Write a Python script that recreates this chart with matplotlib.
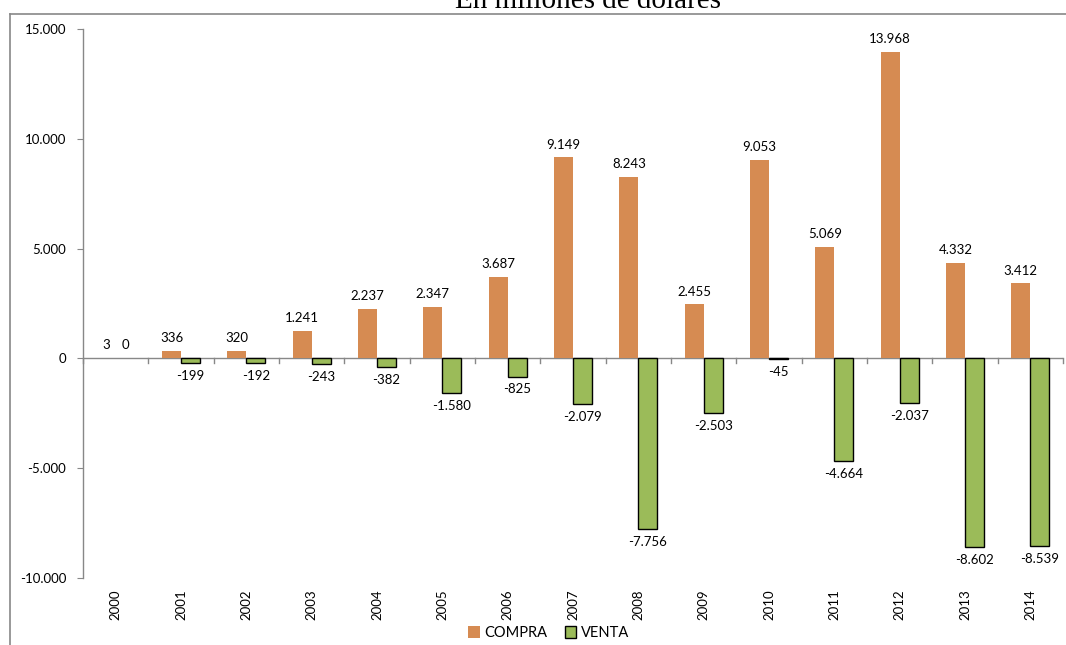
import matplotlib
matplotlib.use("Agg")
import matplotlib.pyplot as plt
from matplotlib.lines import Line2D
from matplotlib.patches import Patch
import numpy as np

years = ["2000", "2001", "2002", "2003", "2004", "2005", "2006", "2007",
         "2008", "2009", "2010", "2011", "2012", "2013", "2014"]
compra = [3, 336, 320, 1241, 2237, 2347, 3687, 9149, 8243, 2455, 9053, 5069, 13968, 4332, 3412]
venta = [0, -199, -192, -243, -382, -1580, -825, -2079, -7756, -2503, -45, -4664, -2037, -8602, -8539]
yticks = [-10000, -5000, 0, 5000, 10000, 15000]
title = "En millones de dólares"

C_ORANGE = "#D68B52"
C_GREEN = "#9BBB59"
GRAY = "#888888"

plt.rcParams['font.family'] = ['Lato', 'DejaVu Sans']

def fmt(v):
    return f"{v:,}".replace(",", ".")

W, H = 1066, 645
fig = plt.figure(figsize=(W / 100, H / 100), dpi=100)
ax = fig.add_axes([83 / W, 1 - 578 / H, (1063 - 83) / W, (578 - 29) / H])

x = np.arange(len(years))
bw = 0.29
ax.bar(x - bw / 2, compra, width=bw, color=C_ORANGE, edgecolor='none', zorder=2)
vbars = ax.bar(x + bw / 2, venta, width=bw, color=C_GREEN, edgecolor='black', linewidth=1.0,
               zorder=2)
for b, v in zip(vbars, venta):
    if v == 0:
        b.set_linewidth(0)

for i, (c, v) in enumerate(zip(compra, venta)):
    ax.annotate(fmt(c), (x[i] - bw / 2, c), xytext=(0, 5), textcoords='offset points',
                ha='center', va='bottom', fontsize=9.5, color='black')
    if v < 0:
        ax.annotate(fmt(v), (x[i] + bw / 2, v), xytext=(0, -5), textcoords='offset points',
                    ha='center', va='top', fontsize=9.5, color='black')
    else:
        ax.annotate(fmt(v), (x[i] + bw / 2, v), xytext=(0, 5), textcoords='offset points',
                    ha='center', va='bottom', fontsize=9.5, color='black')

ax.set_xlim(-0.5, len(years) - 0.5)
ax.set_ylim(-10000, 15000)
ax.set_yticks(yticks)
ax.set_yticklabels([fmt(t) for t in yticks], fontsize=9.5)
ax.set_xticks(x)
ax.set_xticklabels(years, rotation=90, fontsize=9.5)
ax.tick_params(axis='x', length=0, pad=8)
ax.tick_params(axis='y', length=4, color=GRAY, pad=8)

for s in ['top', 'right', 'bottom']:
    ax.spines[s].set_visible(False)
ax.spines['left'].set_color(GRAY)
ax.spines['left'].set_linewidth(1.0)

# zero axis line with category-boundary ticks
ax.axhline(0, color=GRAY, linewidth=1.0, zorder=1)
for b in np.arange(-0.5, len(years) + 0.5, 1.0):
    ax.plot([b, b], [0, -200], color=GRAY, linewidth=1.0, zorder=1, clip_on=False)

handles = [Patch(facecolor=C_ORANGE, edgecolor='none', label="COMPRA"),
           Patch(facecolor=C_GREEN, edgecolor='black', linewidth=1.0, label="VENTA")]
leg = ax.legend(handles=handles, loc='center',
                bbox_to_anchor=(0.475, (H - 633 - (H - 578)) / (578 - 29)),
                ncol=2, frameon=False, fontsize=10.5, handlelength=0.8, handleheight=0.8,
                handletextpad=0.3, columnspacing=1.2)

# outer frame lines
fig.add_artist(Line2D([10 / W, 1.0], [1 - 14 / H, 1 - 14 / H], color=GRAY, linewidth=1.2,
                      transform=fig.transFigure))
fig.add_artist(Line2D([10 / W, 10 / W], [0, 1 - 14 / H], color=GRAY, linewidth=1.2,
                      transform=fig.transFigure))

fig.text(588 / W, 1 - 8 / H, title, ha='center', va='baseline', fontsize=21,
         family='Liberation Serif', color='black')

fig.savefig("out.png", dpi=100)
